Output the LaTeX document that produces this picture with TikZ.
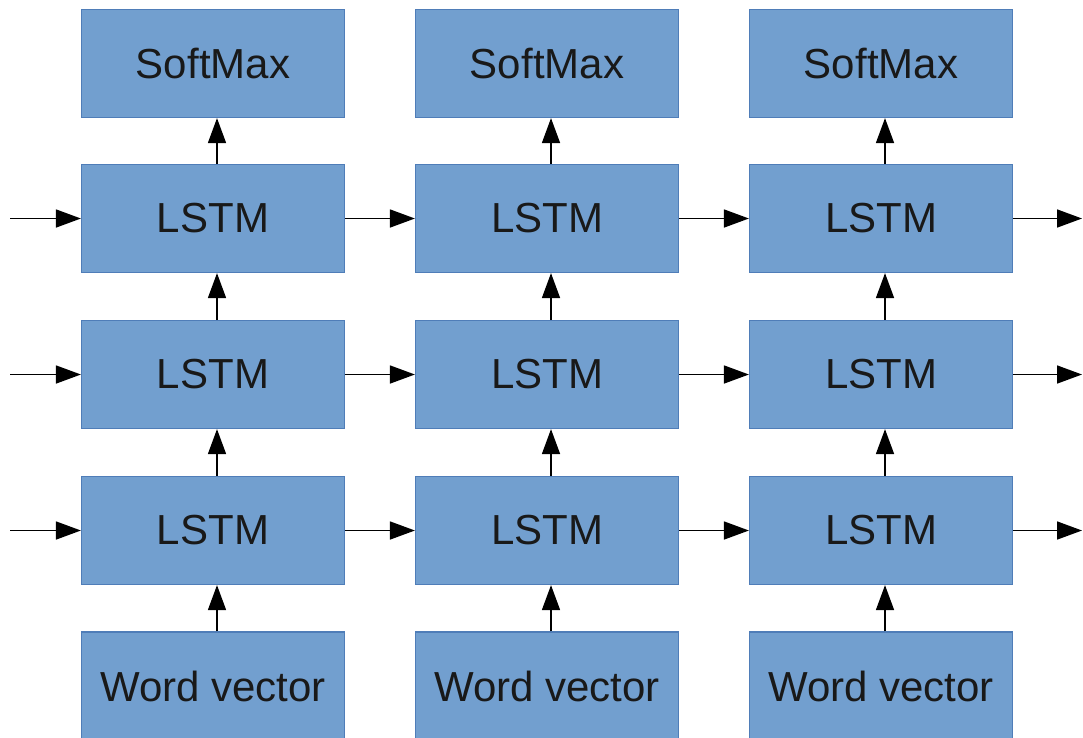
\documentclass[tikz,border=0pt]{standalone}
\usepackage{fontspec}
\setmainfont{Liberation Sans}
\usetikzlibrary{arrows.meta}
\definecolor{boxfill}{HTML}{729FCF}
\definecolor{boxdraw}{HTML}{4F7DB8}
\begin{document}
\begin{tikzpicture}[x=1pt,y=-1pt,
  blk/.style={draw=boxdraw,fill=boxfill,line width=1.2pt,minimum width=263pt,minimum height=108pt,inner sep=0pt,font=\fontsize{42}{50}\selectfont,text=black!90},
  arr/.style={line width=1.6pt,-{Triangle[length=25pt,width=18pt]}}]
\useasboundingbox (0,0) rectangle (1083,737);
\begin{scope}
\clip (0,0) rectangle (1083,737);
\foreach \c/\x in {1/213,2/547,3/881}{
  \node[blk] (s\c) at (\x,63.5) {SoftMax};
  \node[blk] (a\c) at (\x,218.5) {LSTM};
  \node[blk] (b\c) at (\x,374.5) {LSTM};
  \node[blk] (c\c) at (\x,530.5) {LSTM};
  \node[blk] (w\c) at (\x,686) {Word vector};
}
\end{scope}
\foreach \c in {1,2,3}{
  \draw[arr] ([xshift=4pt]w\c.north) -- ([xshift=4pt]c\c.south);
  \draw[arr] ([xshift=4pt]c\c.north) -- ([xshift=4pt]b\c.south);
  \draw[arr] ([xshift=4pt]b\c.north) -- ([xshift=4pt]a\c.south);
  \draw[arr] ([xshift=4pt]a\c.north) -- ([xshift=4pt]s\c.south);
}
\foreach \r/\y in {a/218.5,b/374.5,c/530.5}{
  \coordinate (in\r) at (10,\y);
  \coordinate (out\r) at (1082,\y);
  \draw[arr] (in\r) -- (\r1.west);
  \draw[arr] (\r1.east) -- (\r2.west);
  \draw[arr] (\r2.east) -- (\r3.west);
  \draw[arr] (\r3.east) -- (out\r);
}
\end{tikzpicture}
\end{document}
